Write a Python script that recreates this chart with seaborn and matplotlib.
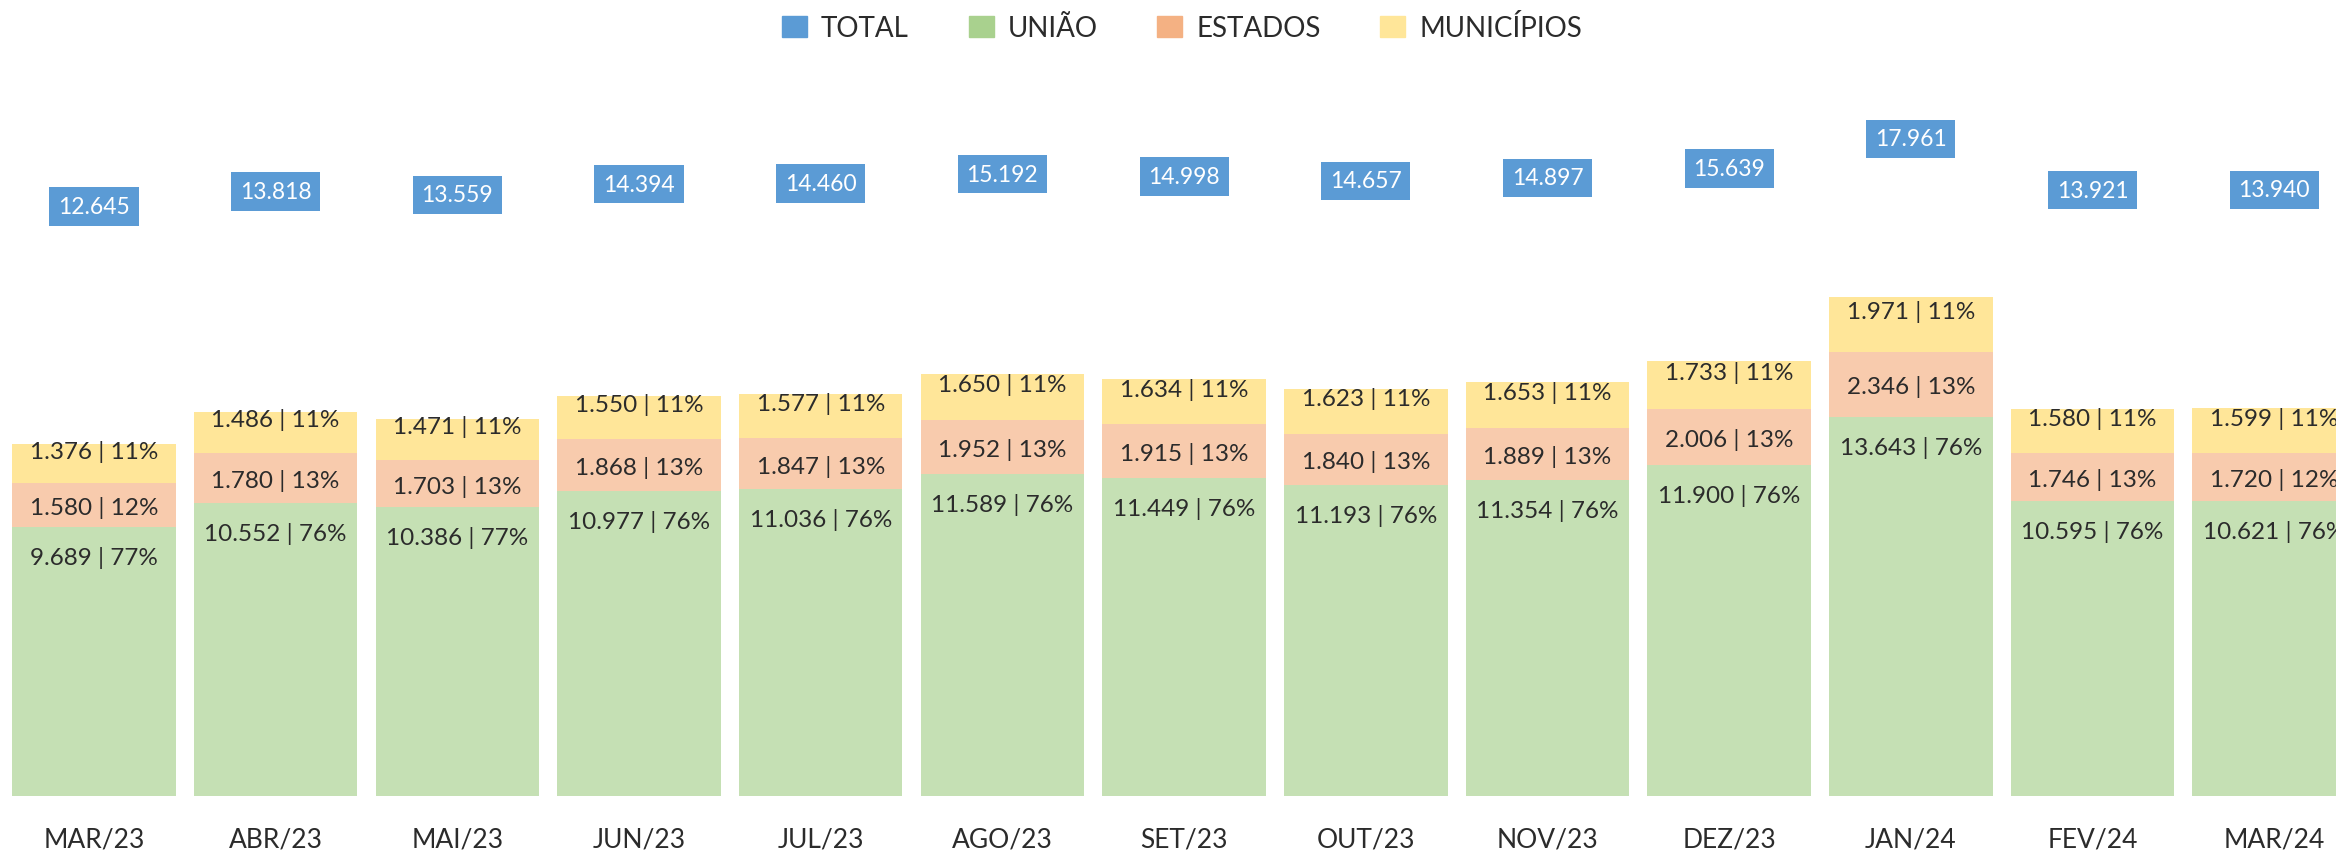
import matplotlib
matplotlib.use("Agg")
import matplotlib.pyplot as plt
import matplotlib.patches as mpatches
import seaborn as sns
import pandas as pd
import numpy as np

# ---- data ----
months = ["MAR/23", "ABR/23", "MAI/23", "JUN/23", "JUL/23", "AGO/23", "SET/23",
          "OUT/23", "NOV/23", "DEZ/23", "JAN/24", "FEV/24", "MAR/24"]
uniao = [9689, 10552, 10386, 10977, 11036, 11589, 11449, 11193, 11354, 11900, 13643, 10595, 10621]
estados = [1580, 1780, 1703, 1868, 1847, 1952, 1915, 1840, 1889, 2006, 2346, 1746, 1720]
municipios = [1376, 1486, 1471, 1550, 1577, 1650, 1634, 1623, 1653, 1733, 1971, 1580, 1599]
total = [12645, 13818, 13559, 14394, 14460, 15192, 14998, 14657, 14897, 15639, 17961, 13921, 13940]
pct_uniao = [77, 76, 77, 76, 76, 76, 76, 76, 76, 76, 76, 76, 76]
pct_estados = [12, 13, 13, 13, 13, 13, 13, 13, 13, 13, 13, 13, 12]
pct_municipios = [11, 11, 11, 11, 11, 11, 11, 11, 11, 11, 11, 11, 11]

sns.set_theme(style="white")
plt.rcParams["font.family"] = ["Lato", "DejaVu Sans"]

C_UNIAO = "#C5E0B4"
C_EST = "#F8CBAD"
C_MUN = "#FFE699"
L_TOTAL = "#5B9BD5"
L_UNIAO = "#A9D18E"
L_EST = "#F4B183"
L_MUN = "#FFE699"
TXT = "#2b2b2b"

df = pd.DataFrame({
    "mes": months,
    "uniao": uniao,
    "estados": estados,
    "municipios": municipios,
    "total": total,
})
df["cum2"] = df["uniao"] + df["estados"]
df["cum3"] = df["cum2"] + df["municipios"]

fig = plt.figure(figsize=(23.36, 8.62), dpi=100)
ax = fig.add_axes([0, 65 / 862, 1, 737 / 862])

common = dict(x="mes", width=0.9, saturation=1, linewidth=0, ax=ax, order=months)
sns.barplot(data=df, y="cum3", color=C_MUN, **common)
sns.barplot(data=df, y="cum2", color=C_EST, **common)
sns.barplot(data=df, y="uniao", color=C_UNIAO, **common)

ax.set_xlim(-0.517, 12.34)
ax.set_ylim(0, 737 / 0.0278)
ax.set_xlabel("")
ax.set_ylabel("")
ax.set_yticks([])
for s in ax.spines.values():
    s.set_visible(False)
ax.tick_params(axis="x", length=0, pad=22, labelsize=19, labelcolor=TXT)


def fmt(v):
    return f"{v:,}".replace(",", ".")


lab_fs = 17.5
for i in range(len(months)):
    u, e, m = uniao[i], estados[i], municipios[i]
    # União: inside end
    ax.annotate(f"{fmt(u)} | {pct_uniao[i]}%", xy=(i, u), xytext=(0, -21.5),
                textcoords="offset points", ha="center", va="center",
                fontsize=lab_fs, color=TXT)
    # Estados: centered
    ax.annotate(f"{fmt(e)} | {pct_estados[i]}%", xy=(i, u + e / 2), xytext=(0, -1.5),
                textcoords="offset points", ha="center", va="center",
                fontsize=lab_fs, color=TXT)
    # Municípios
    ax.annotate(f"{fmt(m)} | {pct_municipios[i]}%", xy=(i, u + e + m / 2), xytext=(0, 9.4),
                textcoords="offset points", ha="center", va="center",
                fontsize=lab_fs, color=TXT)

# secondary axis for total labels
ax2 = ax.twinx()
ax2.set_ylim(-33647, 24224)
ax2.set_yticks([])
for s in ax2.spines.values():
    s.set_visible(False)
for i, t in enumerate(total):
    ax2.text(i, t, fmt(t), ha="center", va="center", fontsize=16.5, color="white",
             bbox=dict(boxstyle="square,pad=0.38", facecolor=L_TOTAL, edgecolor="none"))

handles = [mpatches.Patch(color=L_TOTAL, label="TOTAL"),
           mpatches.Patch(color=L_UNIAO, label="UNIÃO"),
           mpatches.Patch(color=L_EST, label="ESTADOS"),
           mpatches.Patch(color=L_MUN, label="MUNICÍPIOS")]
leg = fig.legend(handles=handles, loc="center", bbox_to_anchor=(0.506, 0.967), ncol=4,
                 frameon=False, fontsize=20, handlelength=0.9, handleheight=0.8,
                 handletextpad=0.5, columnspacing=2.15)
for t in leg.get_texts():
    t.set_color(TXT)

fig.savefig("out.png", dpi=100)
